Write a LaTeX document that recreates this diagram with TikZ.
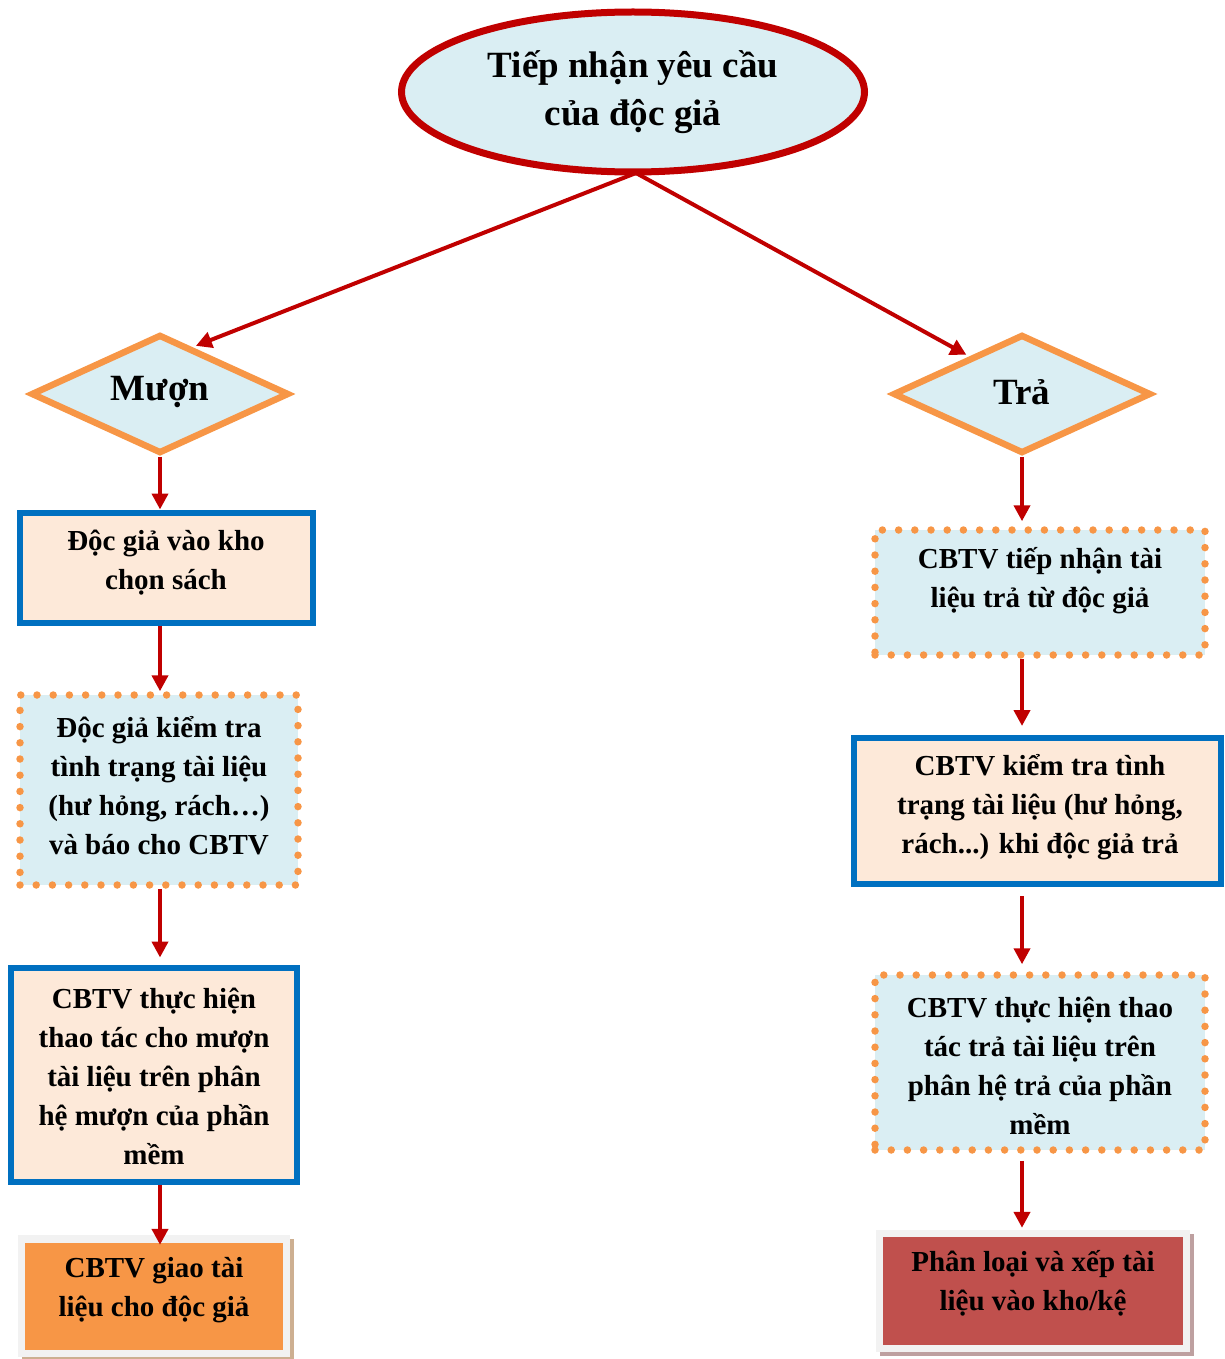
\documentclass[tikz,border=0pt]{standalone}
\usepackage{fontspec}
\setmainfont{Liberation Serif}
\usetikzlibrary{shapes.geometric,arrows.meta,calc}
\definecolor{darkred}{HTML}{C00000}
\definecolor{lblue}{HTML}{DAEEF3}
\definecolor{peach}{HTML}{FDE9D9}
\definecolor{orng}{HTML}{F79646}
\definecolor{bblue}{HTML}{0070C0}
\definecolor{brick}{HTML}{C0504D}
\definecolor{frame}{HTML}{F2F2F2}
\tikzset{
  txt/.style={font=\fontsize{29}{39}\selectfont\bfseries, align=center, inner sep=0pt},
  bigtxt/.style={font=\fontsize{37}{48}\selectfont\bfseries, align=center, inner sep=0pt},
  bluebox/.style={draw=bblue, line width=6pt, fill=peach, rectangle, inner sep=0pt},
  dotbox/.style={draw=orng, line width=7.5pt, fill=lblue, rectangle, inner sep=0pt,
     line cap=round, dash pattern=on 0pt off 16.2pt},
  decision/.style={draw=orng, line width=6.5pt, fill=lblue, diamond, inner sep=0pt, aspect=2},
  conn/.style={draw=darkred, line width=4pt, -{Triangle[length=16pt,width=16pt]}},
}
\begin{document}
\begin{tikzpicture}[x=1pt,y=-1pt]
\useasboundingbox (0,0) rectangle (1225,1359);
% ellipse
\node[ellipse, draw=darkred, line width=7pt, fill=lblue, minimum width=463pt, minimum height=160pt, inner sep=0pt] (top) at (633,92) {};
\node[bigtxt] (toptxt) at (633,92) {Tiếp nhận yêu cầu\\của độc giả};
\coordinate (topb) at (636,173);
% diamonds
\node[decision, minimum width=258pt, minimum height=119pt] (mu) at (160,394) {};
\node[bigtxt] (mutxt) at (160,392) {Mượn};
\node[decision, minimum width=258pt, minimum height=119pt] (tr) at (1022,394) {};
\node[bigtxt] (trtxt) at (1022,392) {Trả};
% left column
\node[bluebox, minimum width=293pt, minimum height=110pt] (l1) at (166.5,567.5) {};
\node[txt] (l1t) at (166,563) {Độc giả vào kho\\chọn sách};
\node[dotbox, minimum width=278pt, minimum height=190pt] (l2) at (159,790) {};
\node[txt] (l2t) at (159,786) {Độc giả kiểm tra\\tình trạng tài liệu\\(hư hỏng, rách…)\\và báo cho CBTV};
\node[bluebox, minimum width=286pt, minimum height=214pt] (l3) at (154,1074.5) {};
\node[txt] (l3t) at (154,1076) {CBTV thực hiện\\thao tác cho mượn\\tài liệu trên phân\\hệ mượn của phần\\mềm};
\fill[fill={rgb,255:red,205;green,175;blue,145}] (22,1239) rectangle (294,1360);
\node[fill=frame, minimum width=272pt, minimum height=122pt, inner sep=0pt] (l4f) at (154,1296) {};
\node[fill=orng, minimum width=258pt, minimum height=107pt, inner sep=0pt] (l4) at (154,1296.5) {};
\node[txt] (l4t) at (154,1290) {CBTV giao tài\\liệu cho độc giả};
% right column
\node[dotbox, minimum width=330pt, minimum height=125pt] (r1) at (1040,592.5) {};
\node[txt] (r1t) at (1040,581) {CBTV tiếp nhận tài\\liệu trả từ độc giả};
\node[bluebox, minimum width=367pt, minimum height=146pt] (r2) at (1037.5,811) {};
\node[txt] (r2t) at (1040,807) {CBTV kiểm tra tình\\trạng tài liệu (hư hỏng,\\rách...) khi độc giả trả};
\node[dotbox, minimum width=330pt, minimum height=175pt] (r3) at (1040,1062.5) {};
\node[txt] (r3t) at (1040,1066) {CBTV thực hiện thao\\tác trả tài liệu trên\\phân hệ trả của phần\\mềm};
\fill[fill={rgb,255:red,190;green,160;blue,160}] (880,1234) rectangle (1194,1356);
\node[fill=frame, minimum width=314pt, minimum height=122pt, inner sep=0pt] (r4f) at (1033,1291) {};
\node[fill=brick, minimum width=300pt, minimum height=108pt, inner sep=0pt] (r4) at (1033,1291) {};
\node[txt] (r4t) at (1033,1283) {Phân loại và xếp tài\\liệu vào kho/kệ};
% connectors
\coordinate (mutip) at ($(mu.north)!0.25!(mu.east)$);
\coordinate (trtip) at ($(tr.west)!0.6!(tr.north)$);
\draw[conn, shorten >=3pt] (topb) -- (mutip);
\draw[conn, shorten >=3pt] (topb) -- (trtip);
\draw[conn] (mu.south) -- (mu.south |- l1.north);
\draw[conn] (mu.south |- l1.south) -- (mu.south |- l2.north);
\draw[conn, shorten >=7pt] (mu.south |- l2.south) -- (mu.south |- l3.north);
\draw[conn, shorten >=-2pt] (mu.south |- l3.south) -- (mu.south |- l4.north);
\draw[conn, shorten >=5pt] (tr.south) -- (tr.south |- r1.north);
\draw[conn, shorten >=9pt] (tr.south |- r1.south) -- (tr.south |- r2.north);
\draw[conn, shorten <=9pt, shorten >=7pt] (tr.south |- r2.south) -- (tr.south |- r3.north);
\draw[conn, shorten <=7pt, shorten >=2pt] (tr.south |- r3.south) -- (tr.south |- r4f.north);
\end{tikzpicture}
\end{document}
